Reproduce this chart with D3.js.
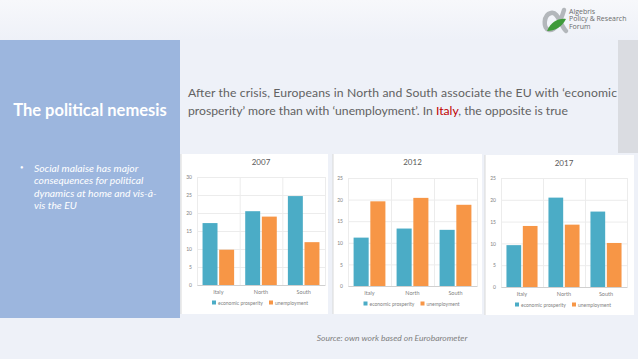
<!DOCTYPE html>
<html><head><meta charset="utf-8">
<script src="https://cdn.jsdelivr.net/npm/d3@7"></script>
<style>html,body{margin:0;padding:0;background:#eef1f8;}svg{display:block;}</style>
</head><body>
<svg id="c" width="638" height="359"></svg>
<script>
// ---- data ----
const categories = ["Italy", "North", "South"];
const seriesNames = ["economic prosperity", "unemployment"];
const years = ["2007", "2012", "2017"];
const econ2007 = [17.2, 20.5, 24.7];
const unemp2007 = [9.8, 19.0, 11.9];
const econ2012 = [11.2, 13.3, 13.0];
const unemp2012 = [19.6, 20.4, 18.8];
const econ2017 = [9.6, 20.5, 17.3];
const unemp2017 = [14.0, 14.3, 10.1];
const yMax = [30, 25, 25];
const yTicks2007 = [0, 5, 10, 15, 20, 25, 30];
const yTicks = [0, 5, 10, 15, 20, 25];

const svg = d3.select("#c");
const colors = ["#4bacc6", "#f79646"];

// background
const defs = svg.append("defs");
const g1 = defs.append("linearGradient").attr("id","hdr").attr("x1",0).attr("y1",0).attr("x2",0).attr("y2",1);
g1.append("stop").attr("offset","0").attr("stop-color","#f7f8fb");
g1.append("stop").attr("offset","1").attr("stop-color","#eef1f8");
svg.append("rect").attr("width",638).attr("height",359).attr("fill","#eef1f8");
svg.append("rect").attr("width",638).attr("height",40).attr("fill","url(#hdr)");

// left panel
svg.append("rect").attr("x",0).attr("y",40).attr("width",180).attr("height",278).attr("fill","#9cb6de");
svg.append("text").attr("x",90).attr("y",116).attr("text-anchor","middle")
  .attr("font-family","Lato, 'Open Sans', sans-serif").attr("font-weight","bold").attr("font-size",16.5)
  .attr("fill","#ffffff").text("The political  nemesis");
svg.append("text").attr("x",20).attr("y",171).attr("fill","#ffffff").attr("font-size",10).text("•");
const bullet = ["Social malaise has major","consequences for political","dynamics at home and vis-à-","vis the EU"];
svg.append("g").selectAll("text").data(bullet).join("text")
  .attr("x",34).attr("y",(d,i)=>172+i*12.3)
  .attr("font-family","Lato, 'Open Sans', sans-serif").attr("font-style","italic").attr("font-size",10.3)
  .attr("fill","#ffffff").text(d=>d);

// right gray strip
svg.append("rect").attr("x",618).attr("y",40).attr("width",20).attr("height",113).attr("fill","#dadce1");

// headline
const hl = svg.append("g").attr("font-family","Lato, 'Open Sans', sans-serif").attr("font-size",12.2).attr("fill","#626262");
hl.append("text").attr("x",188).attr("y",97).attr("textLength",429).attr("lengthAdjust","spacing")
  .text("After the crisis, Europeans in North and South associate the EU with \u2018economic");
const l2 = hl.append("text").attr("x",188).attr("y",115);
l2.append("tspan").text("prosperity\u2019 more than with \u2018unemployment\u2019. In ");
l2.append("tspan").attr("fill","#c00000").text("Italy");
l2.append("tspan").text(", the opposite is true");

// logo (alpha mark drawn as a shape)
const logo = svg.append("g");
logo.append("path")
  .attr("d","M564,10 C560,24 554,31 549,30 C543,29 543,15 551,13 C558,11 560,25 566,31")
  .attr("fill","none").attr("stroke","#b3b7bb").attr("stroke-width",4.5).attr("stroke-linecap","round");
logo.append("path").attr("d","M547,31 C551,22 558,18 566,19 C562,27 555,31 547,31 Z").attr("fill","#3f9a3a");
const lt = logo.append("g").attr("font-family","'Open Sans', Lato, sans-serif").attr("font-size",7).attr("fill","#6b6b6b");
["Algebris","Policy & Research","Forum"].forEach((t,i)=>lt.append("text").attr("x",569).attr("y",13.5+i*7.6).text(t));

// charts
const charts = [
  {year: years[0], econ: econ2007, unemp: unemp2007, max: yMax[0], ticks: yTicks2007,
   panel:[181,154,147,160], plot:[197,177,325,285]},
  {year: years[1], econ: econ2012, unemp: unemp2012, max: yMax[1], ticks: yTicks,
   panel:[333,154,149,160], plot:[348,178,477,286]},
  {year: years[2], econ: econ2017, unemp: unemp2017, max: yMax[2], ticks: yTicks,
   panel:[485,155,149,160], plot:[501,178,627,287]}
];

charts.forEach(c => {
  const g = svg.append("g");
  const [px,py,pw,ph] = c.panel;
  g.append("rect").attr("x",px).attr("y",py).attr("width",pw).attr("height",ph).attr("fill","#ffffff");
  g.append("line").attr("x1",px).attr("x2",px).attr("y1",py).attr("y2",py+ph).attr("stroke","#d9d9d9").attr("stroke-width",1);
  const [x0,y0,x1,y1] = c.plot;
  const x = d3.scaleBand().domain(categories).range([x0,x1]).padding(0);
  const xi = d3.scaleBand().domain(seriesNames).range([0.13*x.bandwidth(), 0.87*x.bandwidth()]).paddingInner(0.1);
  const y = d3.scaleLinear().domain([0,c.max]).range([y1,y0]);
  // gridlines
  g.append("g").selectAll("line").data(c.ticks).join("line")
    .attr("x1",x0).attr("x2",x1).attr("y1",d=>y(d)+0.5).attr("y2",d=>y(d)+0.5)
    .attr("stroke","#ececec");
  g.append("g").selectAll("line").data(categories.concat(["end"])).join("line")
    .attr("x1",(d,i)=>x0+i*x.bandwidth()+0.5).attr("x2",(d,i)=>x0+i*x.bandwidth()+0.5)
    .attr("y1",y0).attr("y2",y1).attr("stroke","#ececec");
  // bars
  const rows = categories.map((k,i)=>({cat:k, vals:[c.econ[i], c.unemp[i]]}));
  g.append("g").selectAll("g").data(rows).join("g")
    .attr("transform",d=>`translate(${x(d.cat)},0)`)
    .selectAll("rect").data(d=>d.vals.map((v,j)=>({s:seriesNames[j], v, j}))).join("rect")
    .attr("x",d=>xi(d.s)).attr("width",xi.bandwidth())
    .attr("y",d=>y(d.v)).attr("height",d=>y(0)-y(d.v)).attr("fill",d=>colors[d.j]);
  // axes
  const ya = d3.axisLeft(y).tickValues(c.ticks).tickSize(0).tickPadding(5);
  const yg = g.append("g").attr("transform",`translate(${x0},0)`).call(ya);
  yg.select(".domain").remove();
  yg.selectAll("text").attr("font-family","Lato, sans-serif").attr("font-size",5).attr("fill","#7f7f7f");
  const xa = d3.axisBottom(x).tickSize(0).tickPadding(5);
  const xg = g.append("g").attr("transform",`translate(0,${y1})`).call(xa);
  xg.select(".domain").attr("stroke","#d0d0d0");
  xg.selectAll("text").attr("font-family","Lato, sans-serif").attr("font-size",5.5).attr("fill","#7f7f7f");
  // title
  g.append("text").attr("x",(x0+x1)/2).attr("y",py+11).attr("text-anchor","middle")
    .attr("font-family","Lato, sans-serif").attr("font-size",8).attr("fill","#595959").text(c.year);
  // legend
  const lg = g.append("g").attr("transform",`translate(${(x0+x1)/2-49},${y1+19})`);
  seriesNames.forEach((s,j)=>{
    const ox = j*57;
    lg.append("rect").attr("x",ox).attr("y",-3.5).attr("width",4).attr("height",4).attr("fill",colors[j]);
    lg.append("text").attr("x",ox+6).attr("y",0.5).attr("font-family","Lato, sans-serif").attr("font-size",5)
      .attr("fill","#7f7f7f").text(s);
  });
});

// source
svg.append("text").attr("x",392).attr("y",341).attr("text-anchor","middle")
  .attr("font-family","Lato, 'Open Sans', sans-serif").attr("font-style","italic").attr("font-size",8.5)
  .attr("fill","#7f7f7f").text("Source: own work based on Eurobarometer");
</script>
</body></html>
